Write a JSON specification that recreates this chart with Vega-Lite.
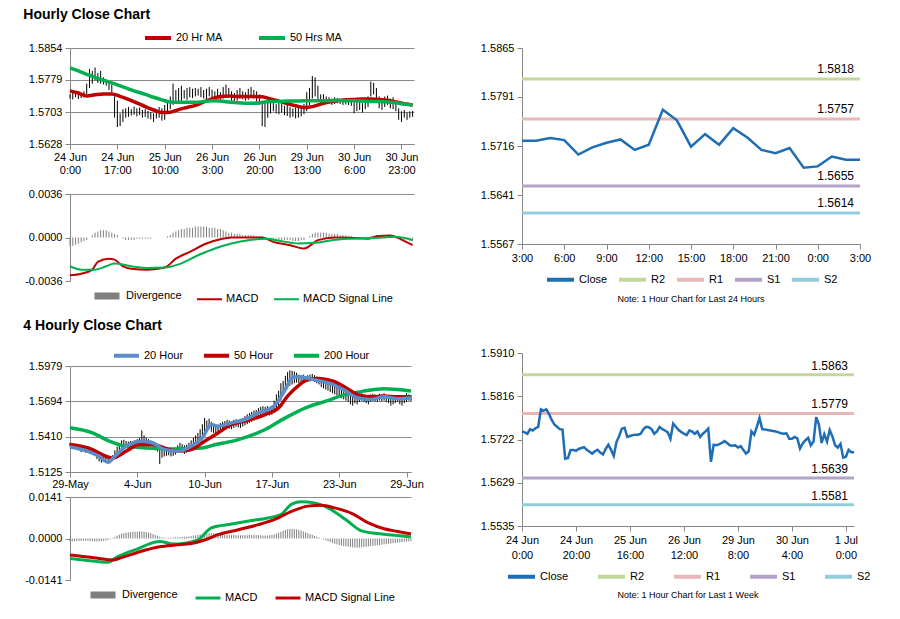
{
"$schema": "https://vega.github.io/schema/vega-lite/v6.json",
"background": "white",
"padding": {"left": 23, "top": 8, "right": 4, "bottom": 0},
"spacing": 56,
"resolve": {"scale": {"color": "independent", "strokeWidth": "independent"}},
"config": {
  "font": "Liberation Sans",
  "view": {"stroke": null},
  "axis": {"labelFont": "Liberation Sans", "labelFontSize": 11, "labelColor": "#000000", "domainColor": "#868686", "tickColor": "#868686", "tickSize": 5, "title": null, "grid": false, "labelPadding": 3, "gridColor": "#8a8a8a", "tickCount": 12},
  "legend": {"labelFont": "Liberation Sans", "labelFontSize": 11, "labelColor": "#000000", "symbolType": "stroke", "labelOffset": 3, "padding": 0, "direction": "horizontal", "layout": {"top": {"anchor": "middle"}, "bottom": {"anchor": "middle"}}},
  "title": {"font": "Liberation Sans", "fontSize": 14, "fontWeight": "bold", "anchor": "start", "color": "#000000", "dx": -5},
  "text": {"font": "Liberation Sans"}
},
"datasets": {
"p1": [
{"i":0,"l":1.5735,"h":1.5745,"d":-0.0007},{"i":1,"l":1.5733,"h":1.5748,"d":-0.0007},{"i":2,"l":1.5738,"h":1.5746,"d":-0.0006},{"i":3,"l":1.5734,"h":1.575,"d":-0.0005},{"i":4,"l":1.5736,"h":1.5747,"d":-0.0004},{"i":5,"l":1.5738,"h":1.5752,"d":-0.0003},{"i":6,"l":1.5745,"h":1.577,"d":-0.0002},{"i":7,"l":1.576,"h":1.5805,"d":0},{"i":8,"l":1.577,"h":1.58,"d":0.0002},{"i":9,"l":1.5778,"h":1.5808,"d":0.0004},
{"i":10,"l":1.5772,"h":1.5795,"d":0.0005},{"i":11,"l":1.577,"h":1.58,"d":0.0006},{"i":12,"l":1.5768,"h":1.5785,"d":0.0006},{"i":13,"l":1.5765,"h":1.578,"d":0.0006},{"i":14,"l":1.5755,"h":1.5775,"d":0.0005},{"i":15,"l":1.575,"h":1.5768,"d":0.0004},{"i":16,"l":1.569,"h":1.574,"d":0.0003},{"i":17,"l":1.5668,"h":1.573,"d":0.0002},{"i":18,"l":1.567,"h":1.57,"d":0},{"i":19,"l":1.568,"h":1.571,"d":-0.0001},
{"i":20,"l":1.569,"h":1.5712,"d":-0.0002},{"i":21,"l":1.5692,"h":1.5715,"d":-0.0002},{"i":22,"l":1.5695,"h":1.571,"d":-0.0002},{"i":23,"l":1.5697,"h":1.5716,"d":-0.0002},{"i":24,"l":1.5693,"h":1.5712,"d":-0.0001},{"i":25,"l":1.5696,"h":1.5714,"d":-0.0001},{"i":26,"l":1.569,"h":1.5708,"d":-0.0001},{"i":27,"l":1.5692,"h":1.571,"d":-0.0001},{"i":28,"l":1.5688,"h":1.5706,"d":-0.0001},{"i":29,"l":1.5686,"h":1.5703,"d":-0.0001},
{"i":30,"l":1.568,"h":1.57,"d":0},{"i":31,"l":1.5688,"h":1.571,"d":0},{"i":32,"l":1.569,"h":1.5715,"d":0},{"i":33,"l":1.5683,"h":1.5712,"d":0},{"i":34,"l":1.5685,"h":1.572,"d":0},{"i":35,"l":1.57,"h":1.5725,"d":0.0001},{"i":36,"l":1.571,"h":1.574,"d":0.0002},{"i":37,"l":1.572,"h":1.577,"d":0.0004},{"i":38,"l":1.573,"h":1.5755,"d":0.0005},{"i":39,"l":1.5725,"h":1.576,"d":0.0006},
{"i":40,"l":1.573,"h":1.5765,"d":0.0007},{"i":41,"l":1.5735,"h":1.5755,"d":0.0007},{"i":42,"l":1.5732,"h":1.576,"d":0.0008},{"i":43,"l":1.5738,"h":1.5762,"d":0.0008},{"i":44,"l":1.5736,"h":1.5758,"d":0.0008},{"i":45,"l":1.574,"h":1.576,"d":0.0009},{"i":46,"l":1.5742,"h":1.5758,"d":0.0009},{"i":47,"l":1.5738,"h":1.5762,"d":0.0009},{"i":48,"l":1.5735,"h":1.5755,"d":0.0009},{"i":49,"l":1.5733,"h":1.5758,"d":0.0009},
{"i":50,"l":1.574,"h":1.5762,"d":0.0008},{"i":51,"l":1.5738,"h":1.5756,"d":0.0008},{"i":52,"l":1.5734,"h":1.5752,"d":0.0008},{"i":53,"l":1.5736,"h":1.5758,"d":0.0007},{"i":54,"l":1.5732,"h":1.575,"d":0.0007},{"i":55,"l":1.5735,"h":1.5762,"d":0.0006},{"i":56,"l":1.574,"h":1.5768,"d":0.0005},{"i":57,"l":1.5738,"h":1.576,"d":0.0004},{"i":58,"l":1.573,"h":1.5752,"d":0.0004},{"i":59,"l":1.5728,"h":1.5748,"d":0.0003},
{"i":60,"l":1.573,"h":1.5755,"d":0.0003},{"i":61,"l":1.5735,"h":1.576,"d":0.0003},{"i":62,"l":1.5733,"h":1.5752,"d":0.0002},{"i":63,"l":1.573,"h":1.575,"d":0.0002},{"i":64,"l":1.5732,"h":1.5758,"d":0.0002},{"i":65,"l":1.5738,"h":1.5762,"d":0.0002},{"i":66,"l":1.5735,"h":1.5755,"d":0.0002},{"i":67,"l":1.5728,"h":1.5752,"d":0.0001},{"i":68,"l":1.572,"h":1.5745,"d":0.0001},{"i":69,"l":1.567,"h":1.573,"d":0.0001},
{"i":70,"l":1.5668,"h":1.5725,"d":0},{"i":71,"l":1.569,"h":1.5725,"d":-0.0001},{"i":72,"l":1.57,"h":1.5728,"d":-0.0001},{"i":73,"l":1.5705,"h":1.5726,"d":-0.0001},{"i":74,"l":1.57,"h":1.5722,"d":-0.0001},{"i":75,"l":1.5698,"h":1.5725,"d":-0.0002},{"i":76,"l":1.5702,"h":1.5724,"d":-0.0002},{"i":77,"l":1.5696,"h":1.5718,"d":-0.0002},{"i":78,"l":1.5694,"h":1.572,"d":-0.0002},{"i":79,"l":1.569,"h":1.5715,"d":-0.0002},
{"i":80,"l":1.5692,"h":1.5712,"d":-0.0003},{"i":81,"l":1.5688,"h":1.5714,"d":-0.0003},{"i":82,"l":1.569,"h":1.5716,"d":-0.0003},{"i":83,"l":1.5693,"h":1.5718,"d":-0.0002},{"i":84,"l":1.5698,"h":1.5722,"d":-0.0002},{"i":85,"l":1.5705,"h":1.575,"d":0},{"i":86,"l":1.572,"h":1.576,"d":0.0001},{"i":87,"l":1.5735,"h":1.5788,"d":0.0003},{"i":88,"l":1.574,"h":1.5785,"d":0.0004},{"i":89,"l":1.573,"h":1.5765,"d":0.0004},
{"i":90,"l":1.5725,"h":1.5745,"d":0.0004},{"i":91,"l":1.572,"h":1.5745,"d":0.0004},{"i":92,"l":1.5722,"h":1.574,"d":0.0004},{"i":93,"l":1.5724,"h":1.5738,"d":0.0003},{"i":94,"l":1.572,"h":1.5735,"d":0.0003},{"i":95,"l":1.5722,"h":1.5738,"d":0.0003},{"i":96,"l":1.5724,"h":1.5736,"d":0.0003},{"i":97,"l":1.5722,"h":1.5734,"d":0.0002},{"i":98,"l":1.572,"h":1.5735,"d":0.0002},{"i":99,"l":1.5721,"h":1.5733,"d":0.0002},
{"i":100,"l":1.572,"h":1.5734,"d":0.0001},{"i":101,"l":1.5718,"h":1.5732,"d":0.0001},{"i":102,"l":1.57,"h":1.573,"d":0},{"i":103,"l":1.5705,"h":1.5728,"d":-0.0001},{"i":104,"l":1.5708,"h":1.5726,"d":-0.0001},{"i":105,"l":1.5702,"h":1.5724,"d":-0.0001},{"i":106,"l":1.571,"h":1.573,"d":0},{"i":107,"l":1.5715,"h":1.574,"d":0},{"i":108,"l":1.574,"h":1.5775,"d":0.0001},{"i":109,"l":1.5745,"h":1.5772,"d":0.0001},
{"i":110,"l":1.5725,"h":1.576,"d":0.0002},{"i":111,"l":1.5712,"h":1.574,"d":0.0002},{"i":112,"l":1.5708,"h":1.5735,"d":0.0001},{"i":113,"l":1.5715,"h":1.574,"d":0.0001},{"i":114,"l":1.572,"h":1.5742,"d":0.0001},{"i":115,"l":1.5712,"h":1.5735,"d":0.0001},{"i":116,"l":1.571,"h":1.5738,"d":0},{"i":117,"l":1.5705,"h":1.573,"d":0},{"i":118,"l":1.5685,"h":1.5712,"d":-0.0001},{"i":119,"l":1.568,"h":1.5705,"d":-0.0001},
{"i":120,"l":1.569,"h":1.5708,"d":-0.0002},{"i":121,"l":1.5685,"h":1.5702,"d":-0.0002},{"i":122,"l":1.569,"h":1.5705,"d":-0.0003},{"i":123,"l":1.5692,"h":1.5706,"d":-0.0003}
],
"a1": [
{"i":0,"20 Hr MA":1.5753,"50 Hrs MA":1.5807},{"i":3,"20 Hr MA":1.5748,"50 Hrs MA":1.58},{"i":6,"20 Hr MA":1.5741,"50 Hrs MA":1.5792},{"i":9,"20 Hr MA":1.5744,"50 Hrs MA":1.5785},{"i":12,"20 Hr MA":1.5746,"50 Hrs MA":1.5778},{"i":15,"20 Hr MA":1.5746,"50 Hrs MA":1.5772},{"i":18,"20 Hr MA":1.574,"50 Hrs MA":1.5765},{"i":21,"20 Hr MA":1.5733,"50 Hrs MA":1.5758},{"i":24,"20 Hr MA":1.5725,"50 Hrs MA":1.5751},{"i":27,"20 Hr MA":1.5716,"50 Hrs MA":1.5745},
{"i":30,"20 Hr MA":1.5708,"50 Hrs MA":1.5738},{"i":33,"20 Hr MA":1.5702,"50 Hrs MA":1.5732},{"i":36,"20 Hr MA":1.5703,"50 Hrs MA":1.5727},{"i":39,"20 Hr MA":1.5709,"50 Hrs MA":1.5726},{"i":42,"20 Hr MA":1.5714,"50 Hrs MA":1.5726},{"i":45,"20 Hr MA":1.5719,"50 Hrs MA":1.5726},{"i":48,"20 Hr MA":1.5727,"50 Hrs MA":1.5728},{"i":51,"20 Hr MA":1.5735,"50 Hrs MA":1.573},{"i":54,"20 Hr MA":1.574,"50 Hrs MA":1.5729},{"i":57,"20 Hr MA":1.5741,"50 Hrs MA":1.5727},
{"i":60,"20 Hr MA":1.574,"50 Hrs MA":1.5725},{"i":63,"20 Hr MA":1.574,"50 Hrs MA":1.5724},{"i":66,"20 Hr MA":1.574,"50 Hrs MA":1.5724},{"i":69,"20 Hr MA":1.5739,"50 Hrs MA":1.5726},{"i":72,"20 Hr MA":1.5734,"50 Hrs MA":1.5728},{"i":75,"20 Hr MA":1.5729,"50 Hrs MA":1.5728},{"i":78,"20 Hr MA":1.5723,"50 Hrs MA":1.5729},{"i":81,"20 Hr MA":1.5718,"50 Hrs MA":1.5729},{"i":84,"20 Hr MA":1.5714,"50 Hrs MA":1.573},{"i":87,"20 Hr MA":1.5716,"50 Hrs MA":1.573},
{"i":90,"20 Hr MA":1.5722,"50 Hrs MA":1.573},{"i":93,"20 Hr MA":1.5727,"50 Hrs MA":1.573},{"i":96,"20 Hr MA":1.573,"50 Hrs MA":1.5731},{"i":99,"20 Hr MA":1.5732,"50 Hrs MA":1.573},{"i":102,"20 Hr MA":1.5733,"50 Hrs MA":1.573},{"i":105,"20 Hr MA":1.5734,"50 Hrs MA":1.5729},{"i":108,"20 Hr MA":1.5734,"50 Hrs MA":1.5728},{"i":111,"20 Hr MA":1.5733,"50 Hrs MA":1.5728},{"i":114,"20 Hr MA":1.5731,"50 Hrs MA":1.5727},{"i":117,"20 Hr MA":1.5727,"50 Hrs MA":1.5725},
{"i":120,"20 Hr MA":1.5723,"50 Hrs MA":1.5722},{"i":123,"20 Hr MA":1.572,"50 Hrs MA":1.572}
],
"m1": [
{"i":0,"MACD":-0.00313,"MACD Signal Line":-0.00238},{"i":4,"MACD":-0.003,"MACD Signal Line":-0.00266},{"i":8,"MACD":-0.00266},{"i":9,"MACD Signal Line":-0.00266},{"i":10,"MACD":-0.00202},{"i":13,"MACD Signal Line":-0.00238},{"i":14,"MACD":-0.00175},{"i":16,"MACD":-0.00183,"MACD Signal Line":-0.00216},{"i":19,"MACD":-0.00238},{"i":22,"MACD":-0.00258,"MACD Signal Line":-0.00238},
{"i":28,"MACD":-0.00266,"MACD Signal Line":-0.00252},{"i":34,"MACD":-0.00249,"MACD Signal Line":-0.00249},{"i":38,"MACD":-0.00175},{"i":39,"MACD Signal Line":-0.00222},{"i":43,"MACD":-0.00119},{"i":46,"MACD Signal Line":-0.00147},{"i":49,"MACD":-0.0005},{"i":52,"MACD Signal Line":-0.00091},{"i":54,"MACD":-0.00014},{"i":58,"MACD":0,"MACD Signal Line":-0.0005},
{"i":64,"MACD Signal Line":-0.00022},{"i":69,"MACD":0},{"i":70,"MACD Signal Line":-0.00011},{"i":73,"MACD":-0.00036},{"i":76,"MACD Signal Line":-0.0003},{"i":79,"MACD":-0.00064},{"i":82,"MACD Signal Line":-0.0005},{"i":84,"MACD":-0.00091},{"i":88,"MACD Signal Line":-0.00044},{"i":89,"MACD":-0.00022},
{"i":94,"MACD Signal Line":-0.00022},{"i":95,"MACD":0},{"i":100,"MACD Signal Line":-0.00011},{"i":101,"MACD":-0.00003},{"i":106,"MACD Signal Line":-0.00006},{"i":107,"MACD":-0.0001},{"i":110,"MACD":0.0001},{"i":112,"MACD Signal Line":0},{"i":115,"MACD":0.00017},{"i":116,"MACD Signal Line":0.00006},
{"i":119,"MACD":-0.00017},{"i":120,"MACD Signal Line":-0.00003},{"i":123,"MACD":-0.00064,"MACD Signal Line":-0.00022}
],
"r1": [
{"h":0,"v":1.5724},{"h":1,"v":1.5724},{"h":2,"v":1.5728},{"h":3,"v":1.5725},{"h":4,"v":1.5703},{"h":5,"v":1.5714},{"h":6,"v":1.5721},{"h":7,"v":1.5726},{"h":8,"v":1.571},{"h":9,"v":1.5718},{"h":10,"v":1.5771},{"h":11,"v":1.5755},{"h":12,"v":1.5715},
{"h":13,"v":1.5734},{"h":14,"v":1.5718},{"h":15,"v":1.5743},{"h":16,"v":1.5729},{"h":17,"v":1.571},{"h":18,"v":1.5705},{"h":19,"v":1.5713},{"h":20,"v":1.5683},{"h":21,"v":1.5685},{"h":22,"v":1.57},{"h":23,"v":1.5695},{"h":24,"v":1.5695}
],
"lv1": [{"k":"R2","v":1.5818},{"k":"R1","v":1.5757},{"k":"S1","v":1.5655},{"k":"S2","v":1.5614}],
"p2": [
{"i":0,"l":1.533,"h":1.536,"d":-0.001},{"i":1,"l":1.532,"h":1.5355,"d":-0.001},{"i":2,"l":1.5315,"h":1.5345,"d":-0.0009},{"i":3,"l":1.531,"h":1.535,"d":-0.0009},{"i":4,"l":1.53,"h":1.534,"d":-0.0008},{"i":5,"l":1.5285,"h":1.5335,"d":-0.0008},{"i":6,"l":1.529,"h":1.533,"d":-0.0008},{"i":7,"l":1.528,"h":1.5325,"d":-0.0008},{"i":8,"l":1.5285,"h":1.532,"d":-0.0008},{"i":9,"l":1.5275,"h":1.532,"d":-0.0009},
{"i":10,"l":1.527,"h":1.531,"d":-0.0009},{"i":11,"l":1.526,"h":1.5305,"d":-0.001},{"i":12,"l":1.523,"h":1.529,"d":-0.001},{"i":13,"l":1.521,"h":1.527,"d":-0.001},{"i":14,"l":1.52,"h":1.525,"d":-0.0009},{"i":15,"l":1.5205,"h":1.5245,"d":-0.0008},{"i":16,"l":1.521,"h":1.525,"d":-0.0007},{"i":17,"l":1.52,"h":1.524,"d":-0.0005},{"i":18,"l":1.521,"h":1.5245,"d":-0.0002},{"i":19,"l":1.5215,"h":1.526,"d":0.0002},
{"i":20,"l":1.524,"h":1.53,"d":0.0006},{"i":21,"l":1.527,"h":1.533,"d":0.001},{"i":22,"l":1.53,"h":1.536,"d":0.0013},{"i":23,"l":1.532,"h":1.538,"d":0.0016},{"i":24,"l":1.533,"h":1.5385,"d":0.0018},{"i":25,"l":1.532,"h":1.5375,"d":0.002},{"i":26,"l":1.5315,"h":1.537,"d":0.0021},{"i":27,"l":1.5325,"h":1.5375,"d":0.0022},{"i":28,"l":1.532,"h":1.537,"d":0.0023},{"i":29,"l":1.533,"h":1.538,"d":0.0023},
{"i":30,"l":1.5335,"h":1.539,"d":0.0023},{"i":31,"l":1.534,"h":1.54,"d":0.0024},{"i":32,"l":1.535,"h":1.546,"d":0.0024},{"i":33,"l":1.534,"h":1.542,"d":0.0023},{"i":34,"l":1.533,"h":1.54,"d":0.0022},{"i":35,"l":1.532,"h":1.539,"d":0.002},{"i":36,"l":1.5315,"h":1.538,"d":0.0018},{"i":37,"l":1.531,"h":1.537,"d":0.0015},{"i":38,"l":1.53,"h":1.536,"d":0.0012},{"i":39,"l":1.529,"h":1.535,"d":0.0009},
{"i":40,"l":1.519,"h":1.532,"d":0.0006},{"i":41,"l":1.524,"h":1.531,"d":0.0004},{"i":42,"l":1.525,"h":1.53,"d":0.0003},{"i":43,"l":1.5255,"h":1.5305,"d":0.0002},{"i":44,"l":1.526,"h":1.531,"d":0.0002},{"i":45,"l":1.525,"h":1.53,"d":0.0003},{"i":46,"l":1.5255,"h":1.531,"d":0.0003},{"i":47,"l":1.5265,"h":1.532,"d":0.0004},{"i":48,"l":1.528,"h":1.534,"d":0.0004},{"i":49,"l":1.53,"h":1.536,"d":0.0005},
{"i":50,"l":1.529,"h":1.535,"d":0.0005},{"i":51,"l":1.527,"h":1.534,"d":0.0006},{"i":52,"l":1.528,"h":1.5345,"d":0.0006},{"i":53,"l":1.529,"h":1.536,"d":0.0007},{"i":54,"l":1.531,"h":1.538,"d":0.0008},{"i":55,"l":1.533,"h":1.54,"d":0.001},{"i":56,"l":1.535,"h":1.542,"d":0.0011},{"i":57,"l":1.537,"h":1.544,"d":0.0012},{"i":58,"l":1.539,"h":1.547,"d":0.0014},{"i":59,"l":1.542,"h":1.551,"d":0.0015},
{"i":60,"l":1.544,"h":1.556,"d":0.0016},{"i":61,"l":1.546,"h":1.554,"d":0.0017},{"i":62,"l":1.547,"h":1.5555,"d":0.0018},{"i":63,"l":1.545,"h":1.553,"d":0.0018},{"i":64,"l":1.544,"h":1.551,"d":0.0018},{"i":65,"l":1.543,"h":1.55,"d":0.0017},{"i":66,"l":1.544,"h":1.55,"d":0.0016},{"i":67,"l":1.545,"h":1.552,"d":0.0015},{"i":68,"l":1.546,"h":1.553,"d":0.0014},{"i":69,"l":1.547,"h":1.5535,"d":0.0013},
{"i":70,"l":1.548,"h":1.5545,"d":0.0013},{"i":71,"l":1.5475,"h":1.554,"d":0.0012},{"i":72,"l":1.547,"h":1.553,"d":0.0012},{"i":73,"l":1.548,"h":1.5545,"d":0.0012},{"i":74,"l":1.549,"h":1.555,"d":0.0011},{"i":75,"l":1.5485,"h":1.5545,"d":0.0011},{"i":76,"l":1.548,"h":1.554,"d":0.0011},{"i":77,"l":1.549,"h":1.556,"d":0.0011},{"i":78,"l":1.55,"h":1.5575,"d":0.0011},{"i":79,"l":1.551,"h":1.559,"d":0.0011},
{"i":80,"l":1.552,"h":1.56,"d":0.0012},{"i":81,"l":1.553,"h":1.561,"d":0.0012},{"i":82,"l":1.554,"h":1.562,"d":0.0012},{"i":83,"l":1.555,"h":1.5625,"d":0.0012},{"i":84,"l":1.556,"h":1.564,"d":0.0011},{"i":85,"l":1.557,"h":1.565,"d":0.0011},{"i":86,"l":1.5575,"h":1.5655,"d":0.001},{"i":87,"l":1.558,"h":1.565,"d":0.001},{"i":88,"l":1.5585,"h":1.5655,"d":0.001},{"i":89,"l":1.558,"h":1.565,"d":0.0011},
{"i":90,"l":1.5585,"h":1.566,"d":0.0012},{"i":91,"l":1.56,"h":1.57,"d":0.0014},{"i":92,"l":1.562,"h":1.575,"d":0.0017},{"i":93,"l":1.565,"h":1.578,"d":0.002},{"i":94,"l":1.57,"h":1.584,"d":0.0023},{"i":95,"l":1.575,"h":1.586,"d":0.0026},{"i":96,"l":1.578,"h":1.59,"d":0.0029},{"i":97,"l":1.58,"h":1.593,"d":0.0031},{"i":98,"l":1.582,"h":1.5945,"d":0.0033},{"i":99,"l":1.583,"h":1.594,"d":0.0033},
{"i":100,"l":1.584,"h":1.5935,"d":0.0032},{"i":101,"l":1.5845,"h":1.5925,"d":0.0031},{"i":102,"l":1.584,"h":1.591,"d":0.0029},{"i":103,"l":1.5845,"h":1.5905,"d":0.0027},{"i":104,"l":1.585,"h":1.591,"d":0.0024},{"i":105,"l":1.5845,"h":1.59,"d":0.0021},{"i":106,"l":1.585,"h":1.5905,"d":0.0018},{"i":107,"l":1.5855,"h":1.591,"d":0.0015},{"i":108,"l":1.586,"h":1.5915,"d":0.0012},{"i":109,"l":1.585,"h":1.5905,"d":0.0009},
{"i":110,"l":1.584,"h":1.5895,"d":0.0006},{"i":111,"l":1.583,"h":1.589,"d":0.0003},{"i":112,"l":1.581,"h":1.588,"d":0},{"i":113,"l":1.58,"h":1.587,"d":-0.0003},{"i":114,"l":1.579,"h":1.586,"d":-0.0006},{"i":115,"l":1.578,"h":1.585,"d":-0.0009},{"i":116,"l":1.577,"h":1.584,"d":-0.0012},{"i":117,"l":1.576,"h":1.583,"d":-0.0015},{"i":118,"l":1.575,"h":1.582,"d":-0.0018},{"i":119,"l":1.574,"h":1.581,"d":-0.002},
{"i":120,"l":1.573,"h":1.58,"d":-0.0022},{"i":121,"l":1.572,"h":1.579,"d":-0.0024},{"i":122,"l":1.571,"h":1.578,"d":-0.0026},{"i":123,"l":1.57,"h":1.5775,"d":-0.0027},{"i":124,"l":1.569,"h":1.577,"d":-0.0028},{"i":125,"l":1.567,"h":1.576,"d":-0.0029},{"i":126,"l":1.566,"h":1.575,"d":-0.003},{"i":127,"l":1.568,"h":1.576,"d":-0.0031},{"i":128,"l":1.567,"h":1.575,"d":-0.0031},{"i":129,"l":1.569,"h":1.5755,"d":-0.0031},
{"i":130,"l":1.57,"h":1.576,"d":-0.003},{"i":131,"l":1.569,"h":1.575,"d":-0.0029},{"i":132,"l":1.568,"h":1.5745,"d":-0.0028},{"i":133,"l":1.567,"h":1.574,"d":-0.0027},{"i":134,"l":1.569,"h":1.575,"d":-0.0026},{"i":135,"l":1.57,"h":1.5755,"d":-0.0025},{"i":136,"l":1.5695,"h":1.575,"d":-0.0024},{"i":137,"l":1.569,"h":1.5745,"d":-0.0023},{"i":138,"l":1.57,"h":1.5755,"d":-0.0022},{"i":139,"l":1.5695,"h":1.575,"d":-0.0021},
{"i":140,"l":1.57,"h":1.576,"d":-0.002},{"i":141,"l":1.569,"h":1.5745,"d":-0.0019},{"i":142,"l":1.568,"h":1.574,"d":-0.0018},{"i":143,"l":1.566,"h":1.573,"d":-0.0017},{"i":144,"l":1.567,"h":1.5735,"d":-0.0016},{"i":145,"l":1.568,"h":1.574,"d":-0.0015},{"i":146,"l":1.569,"h":1.5745,"d":-0.0014},{"i":147,"l":1.567,"h":1.5735,"d":-0.0013},{"i":148,"l":1.566,"h":1.573,"d":-0.0012},{"i":149,"l":1.568,"h":1.574,"d":-0.0011},
{"i":150,"l":1.569,"h":1.576,"d":-0.001},{"i":151,"l":1.57,"h":1.575,"d":-0.001},{"i":152,"l":1.5695,"h":1.5745,"d":-0.0009}
],
"a2": [
{"i":0,"20 Hour":1.5327,"50 Hour":1.5346,"200 Hour":1.5481},{"i":8,"20 Hour":1.5292},{"i":10,"50 Hour":1.5306,"200 Hour":1.544},{"i":13,"20 Hour":1.5252},{"i":16,"50 Hour":1.5252},{"i":17,"20 Hour":1.5203,"200 Hour":1.5378},{"i":19,"50 Hour":1.5238},{"i":20,"20 Hour":1.5252},{"i":25,"20 Hour":1.5332,"50 Hour":1.5292,"200 Hour":1.5332},{"i":31,"50 Hour":1.5346},
{"i":32,"20 Hour":1.5373},{"i":35,"200 Hour":1.5319},{"i":37,"20 Hour":1.5359,"50 Hour":1.5346},{"i":42,"20 Hour":1.5306,"50 Hour":1.5319},{"i":45,"200 Hour":1.5311},{"i":48,"20 Hour":1.5292,"50 Hour":1.5292},{"i":54,"20 Hour":1.5332,"50 Hour":1.5306},{"i":59,"20 Hour":1.54,"200 Hour":1.5319},{"i":60,"50 Hour":1.5373},{"i":63,"20 Hour":1.5508},
{"i":65,"200 Hour":1.5346},{"i":66,"20 Hour":1.5494,"50 Hour":1.544},{"i":72,"20 Hour":1.5521,"50 Hour":1.5508},{"i":75,"200 Hour":1.5386},{"i":78,"20 Hour":1.5548,"50 Hour":1.5535},{"i":84,"20 Hour":1.5602},{"i":87,"50 Hour":1.5588,"200 Hour":1.5467},{"i":91,"20 Hour":1.5656},{"i":93,"50 Hour":1.5642},{"i":96,"20 Hour":1.579,"200 Hour":1.5561},
{"i":97,"50 Hour":1.5737},{"i":99,"20 Hour":1.5885},{"i":102,"20 Hour":1.5893,"50 Hour":1.5823},{"i":105,"200 Hour":1.5642},{"i":106,"50 Hour":1.5871},{"i":108,"20 Hour":1.5871},{"i":111,"50 Hour":1.5879},{"i":114,"200 Hour":1.5696},{"i":117,"20 Hour":1.5831,"50 Hour":1.5858},{"i":123,"20 Hour":1.5777,"50 Hour":1.5804,"200 Hour":1.575},
{"i":128,"20 Hour":1.5723,"50 Hour":1.575},{"i":131,"200 Hour":1.5777},{"i":134,"20 Hour":1.571,"50 Hour":1.5731},{"i":140,"20 Hour":1.5731,"50 Hour":1.5737,"200 Hour":1.5796},{"i":146,"20 Hour":1.5715,"50 Hour":1.5731,"200 Hour":1.579},{"i":152,"20 Hour":1.5723,"50 Hour":1.5731,"200 Hour":1.5777}
],
"m2": [
{"i":0,"MACD":-0.0068,"MACD Signal Line":-0.0056},{"i":7,"MACD":-0.0074,"MACD Signal Line":-0.0062},{"i":13,"MACD":-0.0079,"MACD Signal Line":-0.0068},{"i":17,"MACD":-0.0081},{"i":19,"MACD Signal Line":-0.0073},{"i":20,"MACD":-0.0067},{"i":23,"MACD Signal Line":-0.0065},{"i":25,"MACD":-0.005},{"i":31,"MACD":-0.0033,"MACD Signal Line":-0.0045},{"i":37,"MACD":-0.0014},
{"i":40,"MACD":-0.001,"MACD Signal Line":-0.0028},{"i":46,"MACD":-0.0019},{"i":47,"MACD Signal Line":-0.0022},{"i":51,"MACD":-0.0016},{"i":54,"MACD Signal Line":-0.0017},{"i":57,"MACD":-0.0005},{"i":60,"MACD Signal Line":-0.0005},{"i":63,"MACD":0.0036},{"i":66,"MACD Signal Line":0.0013},{"i":72,"MACD":0.0049},
{"i":75,"MACD Signal Line":0.003},{"i":81,"MACD":0.0061},{"i":84,"MACD Signal Line":0.0047},{"i":90,"MACD":0.0072},{"i":91,"MACD Signal Line":0.0064},{"i":94,"MACD":0.0081},{"i":99,"MACD":0.0118,"MACD Signal Line":0.0093},{"i":103,"MACD":0.0125},{"i":106,"MACD Signal Line":0.011},{"i":109,"MACD":0.0121},
{"i":112,"MACD Signal Line":0.0113},{"i":115,"MACD":0.0104},{"i":118,"MACD Signal Line":0.0104},{"i":123,"MACD":0.0064},{"i":126,"MACD Signal Line":0.0084},{"i":130,"MACD":0.0026},{"i":133,"MACD Signal Line":0.0053},{"i":139,"MACD":0.0015},{"i":140,"MACD Signal Line":0.0033},{"i":146,"MACD":0.001,"MACD Signal Line":0.0024},
{"i":152,"MACD":0.0005,"MACD Signal Line":0.0015}
],
"r2": [
{"i":0,"v":1.574},{"i":1,"v":1.5738},{"i":2,"v":1.5735},{"i":3,"v":1.5745},{"i":4,"v":1.5742},{"i":5,"v":1.5747},{"i":6,"v":1.575},{"i":7,"v":1.5788},{"i":8,"v":1.5785},{"i":9,"v":1.5788},
{"i":10,"v":1.5778},{"i":11,"v":1.5765},{"i":12,"v":1.5755},{"i":13,"v":1.575},{"i":14,"v":1.5745},{"i":15,"v":1.5744},{"i":16,"v":1.5681},{"i":17,"v":1.5682},{"i":18,"v":1.57},{"i":19,"v":1.57},
{"i":20,"v":1.5698},{"i":21,"v":1.5702},{"i":22,"v":1.5704},{"i":23,"v":1.5706},{"i":24,"v":1.57},{"i":25,"v":1.5696},{"i":26,"v":1.5692},{"i":27,"v":1.5697},{"i":28,"v":1.57},{"i":29,"v":1.5694},
{"i":30,"v":1.569},{"i":31,"v":1.5702},{"i":32,"v":1.5711},{"i":33,"v":1.57},{"i":34,"v":1.5687},{"i":35,"v":1.5717},{"i":36,"v":1.573},{"i":37,"v":1.5746},{"i":38,"v":1.5748},{"i":39,"v":1.5728},
{"i":40,"v":1.573},{"i":41,"v":1.5732},{"i":42,"v":1.5733},{"i":43,"v":1.5733},{"i":44,"v":1.5735},{"i":45,"v":1.5745},{"i":46,"v":1.575},{"i":47,"v":1.5749},{"i":48,"v":1.5745},{"i":49,"v":1.5735},
{"i":50,"v":1.574},{"i":51,"v":1.575},{"i":52,"v":1.5745},{"i":53,"v":1.5742},{"i":54,"v":1.5738},{"i":55,"v":1.5724},{"i":56,"v":1.5757},{"i":57,"v":1.575},{"i":58,"v":1.5743},{"i":59,"v":1.5739},
{"i":60,"v":1.5735},{"i":61,"v":1.5732},{"i":62,"v":1.5742},{"i":63,"v":1.574},{"i":64,"v":1.5735},{"i":65,"v":1.574},{"i":66,"v":1.5728},{"i":67,"v":1.5735},{"i":68,"v":1.574},{"i":69,"v":1.5746},
{"i":70,"v":1.5674},{"i":71,"v":1.5711},{"i":72,"v":1.571},{"i":73,"v":1.5712},{"i":74,"v":1.5715},{"i":75,"v":1.5719},{"i":76,"v":1.5715},{"i":77,"v":1.571},{"i":78,"v":1.5709},{"i":79,"v":1.571},
{"i":80,"v":1.5705},{"i":81,"v":1.5708},{"i":82,"v":1.57},{"i":83,"v":1.5692},{"i":84,"v":1.5697},{"i":85,"v":1.574},{"i":86,"v":1.5733},{"i":87,"v":1.575},{"i":88,"v":1.5769},{"i":89,"v":1.5745},
{"i":90,"v":1.5744},{"i":91,"v":1.5743},{"i":92,"v":1.5742},{"i":93,"v":1.5741},{"i":94,"v":1.574},{"i":95,"v":1.5738},{"i":96,"v":1.5736},{"i":97,"v":1.5735},{"i":98,"v":1.5736},{"i":99,"v":1.5724},
{"i":100,"v":1.5724},{"i":101,"v":1.5728},{"i":102,"v":1.5725},{"i":103,"v":1.5703},{"i":104,"v":1.5714},{"i":105,"v":1.5721},{"i":106,"v":1.5726},{"i":107,"v":1.571},{"i":108,"v":1.5718},{"i":109,"v":1.5771},
{"i":110,"v":1.5755},{"i":111,"v":1.5715},{"i":112,"v":1.5734},{"i":113,"v":1.5718},{"i":114,"v":1.5743},{"i":115,"v":1.5729},{"i":116,"v":1.571},{"i":117,"v":1.5705},{"i":118,"v":1.5713},{"i":119,"v":1.5683},
{"i":120,"v":1.5685},{"i":121,"v":1.57},{"i":122,"v":1.5695},{"i":123,"v":1.5695}
],
"lv2": [{"k":"R2","v":1.5863},{"k":"R1","v":1.5779},{"k":"S1","v":1.5639},{"k":"S2","v":1.5581}]
},
"hconcat": [
{
  "spacing": 9,
  "resolve": {"scale": {"color": "independent", "strokeWidth": "independent"}},
  "vconcat": [
    {
      "spacing": 13,
      "resolve": {"scale": {"color": "independent", "strokeWidth": "independent"}},
      "vconcat": [
        {
          "title": {"text": "Hourly Close Chart", "offset": 1},
          "width": 344, "height": 96,
          "layer": [
            {"data": {"name": "p1"}, "mark": {"type": "rule", "color": "#000000", "strokeWidth": 1},
             "encoding": {
               "x": {"field": "i", "type": "quantitative", "scale": {"domain": [0, 123.5], "nice": false, "zero": false},
                     "axis": {"values": [0, 17, 34, 51, 68, 85, 102, 119], "labelFlush": false, "labelOverlap": false, "labelLineHeight": 13, "labelPadding": 2,
                              "labelExpr": "datum.value==0?['24 Jun','0:00']:datum.value==17?['24 Jun','17:00']:datum.value==34?['25 Jun','10:00']:datum.value==51?['26 Jun','3:00']:datum.value==68?['26 Jun','20:00']:datum.value==85?['29 Jun','13:00']:datum.value==102?['30 Jun','6:00']:['30 Jun','23:00']"}},
               "y": {"field": "l", "type": "quantitative", "scale": {"domain": [1.5628, 1.5854], "nice": false, "zero": false},
                     "axis": {"values": [1.5628, 1.5703, 1.5779, 1.5854], "format": ".4f", "grid": true, "labelOverlap": false}},
               "y2": {"field": "h"}}},
            {"data": {"name": "a1"}, "transform": [{"fold": ["20 Hr MA", "50 Hrs MA"], "as": ["k", "v"]}, {"filter": "isValid(datum.v)"}],
             "mark": {"type": "line", "strokeWidth": 3.5, "interpolate": "monotone"},
             "encoding": {
               "x": {"field": "i", "type": "quantitative"},
               "y": {"field": "v", "type": "quantitative"},
               "color": {"field": "k", "type": "nominal", "scale": {"domain": ["20 Hr MA", "50 Hrs MA"], "range": ["#c00000", "#00b050"]},
                         "legend": {"orient": "top", "symbolStrokeWidth": 4, "columnPadding": 28, "offset": 2, "symbolSize": 676, "title": null}}}}
          ]
        },
        {
          "width": 344, "height": 87,
          "layer": [
            {"data": {"name": "p1"}, "mark": {"type": "rule", "strokeWidth": 1},
             "encoding": {
               "x": {"field": "i", "type": "quantitative", "scale": {"domain": [0, 123.5], "nice": false, "zero": false}, "axis": null},
               "y": {"field": "d", "type": "quantitative", "scale": {"domain": [-0.0036, 0.0036], "nice": false},
                     "axis": {"values": [-0.0036, 0, 0.0036], "labelOverlap": false, "labelExpr": "datum.value<0?'-'+format(-datum.value,'.4f'):format(datum.value,'.4f')", "grid": true, "gridOpacity": {"condition": {"test": "datum.value>0.001", "value": 1}, "value": 0}}},
               "y2": {"datum": 0},
               "color": {"datum": "Divergence", "type": "nominal", "scale": {"domain": ["Divergence", "MACD", "MACD Signal Line"], "range": ["#7f7f7f", "#c00000", "#00b050"]},
                         "legend": {"orient": "bottom", "columnPadding": 11, "offset": -1, "symbolSize": 625, "title": null}}}},
            {"data": {"name": "m1"}, "transform": [{"fold": ["MACD", "MACD Signal Line"], "as": ["k", "v"]}, {"filter": "isValid(datum.v)"}],
             "mark": {"type": "line", "interpolate": "monotone"},
             "encoding": {
               "x": {"field": "i", "type": "quantitative"},
               "y": {"field": "v", "type": "quantitative"},
               "color": {"field": "k", "type": "nominal"},
               "strokeWidth": {"field": "k", "type": "nominal", "scale": {"type": "ordinal", "domain": ["Divergence", "MACD", "MACD Signal Line"], "range": [7, 2, 2]},
                               "legend": {"orient": "bottom", "columnPadding": 11, "offset": -1, "symbolSize": 625, "title": null}}}}
          ]
        }
      ]
    },
    {
      "spacing": 2,
      "resolve": {"scale": {"color": "independent", "strokeWidth": "independent"}},
      "vconcat": [
        {
          "title": {"text": "4 Hourly Close Chart", "offset": 8},
          "width": 341, "height": 106,
          "layer": [
            {"data": {"name": "p2"}, "mark": {"type": "rule", "color": "#000000", "strokeWidth": 1},
             "encoding": {
               "x": {"field": "i", "type": "quantitative", "scale": {"domain": [0, 152], "nice": false, "zero": false},
                     "axis": {"values": [0, 30, 60, 90, 120, 150], "labelFlush": false, "labelOverlap": false, "labelPadding": 1,
                              "labelExpr": "datum.value==0?'29-May':datum.value==30?'4-Jun':datum.value==60?'10-Jun':datum.value==90?'17-Jun':datum.value==120?'23-Jun':'29-Jun'"}},
               "y": {"field": "l", "type": "quantitative", "scale": {"domain": [1.5125, 1.5979], "nice": false, "zero": false},
                     "axis": {"values": [1.5125, 1.541, 1.5694, 1.5979], "format": ".4f", "grid": true, "labelOverlap": false}},
               "y2": {"field": "h"}}},
            {"data": {"name": "a2"}, "transform": [{"fold": ["200 Hour", "50 Hour", "20 Hour"], "as": ["k", "v"]}, {"filter": "isValid(datum.v)"}],
             "mark": {"type": "line", "strokeWidth": 3.5, "interpolate": "monotone"},
             "encoding": {
               "x": {"field": "i", "type": "quantitative"},
               "y": {"field": "v", "type": "quantitative"},
               "color": {"field": "k", "type": "nominal", "scale": {"domain": ["20 Hour", "50 Hour", "200 Hour"], "range": ["#5b8dc9", "#c00000", "#00b050"]},
                         "legend": {"orient": "top", "symbolStrokeWidth": 4, "columnPadding": 12, "offset": 2, "symbolSize": 625, "title": null}}}}
          ]
        },
        {
          "width": 341, "height": 83,
          "layer": [
            {"data": {"name": "p2"}, "mark": {"type": "rule", "strokeWidth": 1},
             "encoding": {
               "x": {"field": "i", "type": "quantitative", "scale": {"domain": [0, 152], "nice": false, "zero": false}, "axis": null},
               "y": {"field": "d", "type": "quantitative", "scale": {"domain": [-0.0141, 0.0141], "nice": false},
                     "axis": {"values": [-0.0141, 0, 0.0141], "labelOverlap": false, "labelExpr": "datum.value<0?'-'+format(-datum.value,'.4f'):format(datum.value,'.4f')", "grid": true, "gridOpacity": {"condition": {"test": "datum.value>0.001", "value": 1}, "value": 0}}},
               "y2": {"datum": 0},
               "color": {"datum": "Divergence", "type": "nominal", "scale": {"domain": ["Divergence", "MACD", "MACD Signal Line"], "range": ["#7f7f7f", "#00b050", "#c00000"]},
                         "legend": {"orient": "bottom", "columnPadding": 11, "offset": -1, "symbolSize": 625, "title": null}}}},
            {"data": {"name": "m2"}, "transform": [{"fold": ["MACD", "MACD Signal Line"], "as": ["k", "v"]}, {"filter": "isValid(datum.v)"}],
             "mark": {"type": "line", "interpolate": "monotone"},
             "encoding": {
               "x": {"field": "i", "type": "quantitative"},
               "y": {"field": "v", "type": "quantitative"},
               "color": {"field": "k", "type": "nominal"},
               "strokeWidth": {"field": "k", "type": "nominal", "scale": {"type": "ordinal", "domain": ["Divergence", "MACD", "MACD Signal Line"], "range": [7, 3, 3]},
                               "legend": {"orient": "bottom", "columnPadding": 11, "offset": -1, "symbolSize": 625, "title": null}}}}
          ]
        }
      ]
    }
  ]
},
{
  "spacing": 43,
  "resolve": {"scale": {"color": "independent", "strokeWidth": "independent"}},
  "vconcat": [
    {
      "width": 338, "height": 196,
      "layer": [
        {"data": {"name": "lv1"}, "mark": {"type": "rule", "strokeWidth": 3},
         "encoding": {
           "y": {"field": "v", "type": "quantitative", "scale": {"domain": [1.5567, 1.5865], "nice": false, "zero": false},
                 "axis": {"values": [1.5567, 1.5641, 1.5716, 1.5791, 1.5865], "format": ".4f", "labelOverlap": false}},
           "color": {"field": "k", "type": "nominal", "scale": {"domain": ["Close", "R2", "R1", "S1", "S2"], "range": ["#1f6db4", "#c3d69b", "#e6b9b8", "#b3a2c7", "#93cddd"]},
                     "legend": {"orient": "bottom", "symbolStrokeWidth": 4, "columnPadding": 3, "offset": 1, "symbolSize": 729,
                                "title": "Note: 1 Hour Chart for Last 24 Hours", "titleOrient": "bottom", "titleAnchor": "middle", "titleFontSize": 9, "titleFontWeight": "normal", "titlePadding": 7, "titleFont": "Liberation Sans"}}}},
        {"data": {"name": "lv1"}, "mark": {"type": "text", "align": "right", "dx": -6, "dy": -10, "fontSize": 12, "color": "#000000"},
         "encoding": {
           "x": {"datum": 24, "type": "quantitative"},
           "y": {"field": "v", "type": "quantitative"},
           "text": {"field": "v", "type": "quantitative", "format": ".4f"}}},
        {"data": {"name": "r1"}, "mark": {"type": "line", "strokeWidth": 2.5},
         "encoding": {
           "x": {"field": "h", "type": "quantitative", "scale": {"domain": [0, 24], "nice": false, "zero": false},
                 "axis": {"values": [0, 3, 6, 9, 12, 15, 18, 21, 24], "labelFlush": false, "labelOverlap": false, "labelExpr": "((datum.value+3)%24)+':00'"}},
           "y": {"field": "v", "type": "quantitative"},
           "color": {"datum": "Close", "type": "nominal"}}}
      ]
    },
    {
      "width": 332, "height": 173,
      "layer": [
        {"data": {"name": "lv2"}, "mark": {"type": "rule", "strokeWidth": 3},
         "encoding": {
           "y": {"field": "v", "type": "quantitative", "scale": {"domain": [1.5535, 1.591], "nice": false, "zero": false},
                 "axis": {"values": [1.5535, 1.5629, 1.5722, 1.5816, 1.591], "format": ".4f", "labelOverlap": false}},
           "color": {"field": "k", "type": "nominal", "scale": {"domain": ["Close", "R2", "R1", "S1", "S2"], "range": ["#1f6db4", "#c3d69b", "#e6b9b8", "#b3a2c7", "#93cddd"]},
                     "legend": {"orient": "bottom", "symbolStrokeWidth": 4, "columnPadding": 21, "offset": 1, "symbolSize": 729,
                                "title": "Note: 1 Hour Chart for Last 1 Week", "titleOrient": "bottom", "titleAnchor": "middle", "titleFontSize": 9, "titleFontWeight": "normal", "titlePadding": 6, "titleFont": "Liberation Sans"}}}},
        {"data": {"name": "lv2"}, "mark": {"type": "text", "align": "right", "dx": -6, "dy": -9, "fontSize": 12, "color": "#000000"},
         "encoding": {
           "x": {"datum": 123, "type": "quantitative"},
           "y": {"field": "v", "type": "quantitative"},
           "text": {"field": "v", "type": "quantitative", "format": ".4f"}}},
        {"data": {"name": "r2"}, "mark": {"type": "line", "strokeWidth": 2.5},
         "encoding": {
           "x": {"field": "i", "type": "quantitative", "scale": {"domain": [0, 123], "nice": false, "zero": false},
                 "axis": {"values": [0, 20, 40, 60, 80, 100, 120], "labelFlush": false, "labelOverlap": false, "labelLineHeight": 15, "labelFontSize": 11,
                          "labelExpr": "datum.value==0?['24 Jun','0:00']:datum.value==20?['24 Jun','20:00']:datum.value==40?['25 Jun','16:00']:datum.value==60?['26 Jun','12:00']:datum.value==80?['29 Jun','8:00']:datum.value==100?['30 Jun','4:00']:['1 Jul','0:00']"}},
           "y": {"field": "v", "type": "quantitative"},
           "color": {"datum": "Close", "type": "nominal"}}}
      ]
    }
  ]
}
]
}
